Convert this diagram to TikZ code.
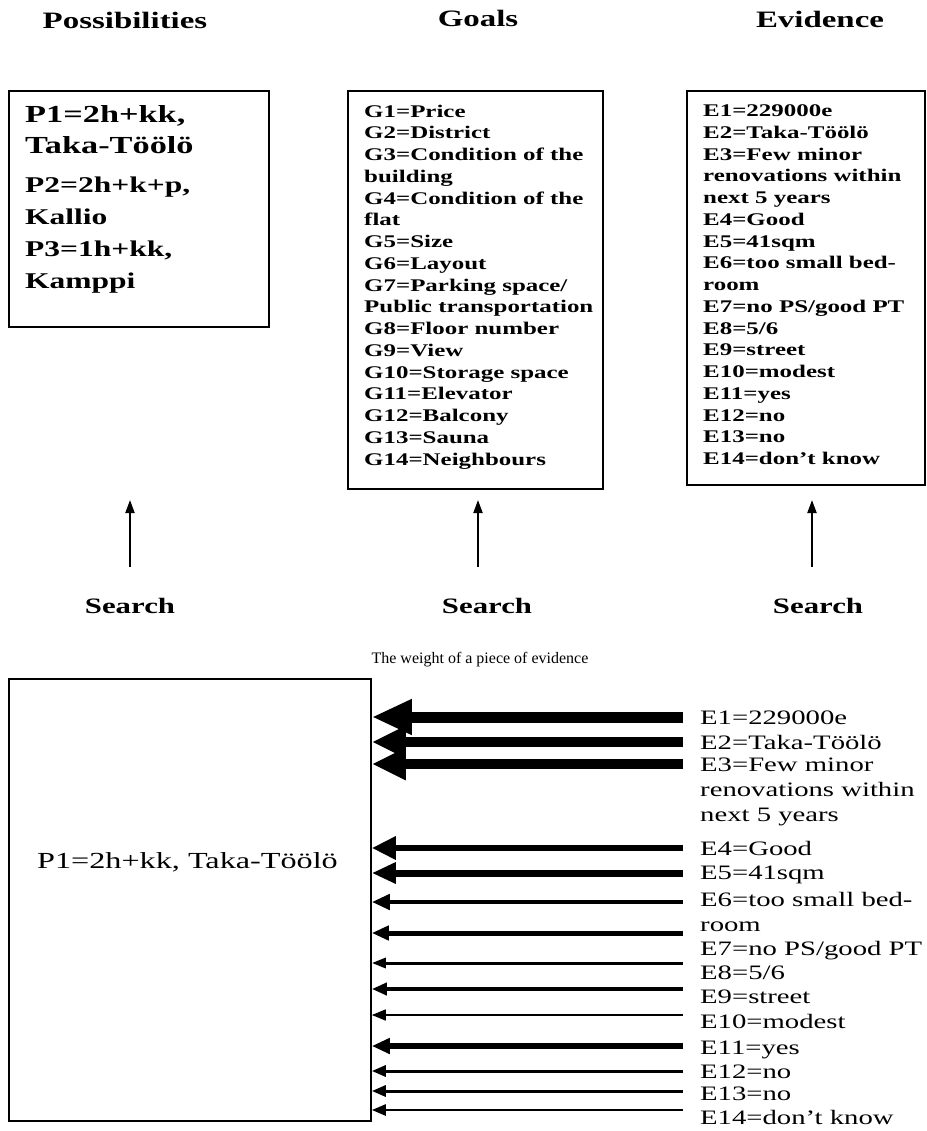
\documentclass[tikz,border=0pt]{standalone}
\usepackage{fontspec}
\setmainfont{Liberation Serif}[FakeStretch=1.4]
\newfontfamily\plainfont{Liberation Serif}
\usetikzlibrary{arrows.meta}
\begin{document}
\begin{tikzpicture}[x=1pt,y=-1pt,
  frame/.style={draw, line width=1.8pt, inner sep=0pt, anchor=north west},
  title/.style={font=\fontsize{23.5}{25}\selectfont\bfseries, inner sep=0pt, anchor=base},
  search/.style={font=\fontsize{22}{24}\selectfont\bfseries, inner sep=0pt, anchor=base},
  listtxt/.style={font=\fontsize{17.8}{21.75}\selectfont\bfseries, align=left, inner sep=0pt, anchor=north west},
  ptxtA/.style={font=\fontsize{24.5}{31}\selectfont\bfseries, align=left, inner sep=0pt, anchor=north west},
  ptxtB/.style={font=\fontsize{22.5}{32}\selectfont\bfseries, align=left, inner sep=0pt, anchor=north west},
  lbl/.style={font=\fontsize{20.5}{22}\selectfont, inner sep=0pt, anchor=base west},
  upar/.style={line width=2pt, -{Triangle[length=13pt,width=9pt]}},
]
\useasboundingbox (0,0) rectangle (926,1131);
% titles
\node[title] (tp) at (125,29) {Possibilities};
\node[title] (tg) at (478,27) {Goals};
\node[title] (te) at (820,28) {Evidence};
% top boxes
\node[frame, minimum width=260pt, minimum height=236pt] (pbox) at (8,90) {};
\node[frame, minimum width=255pt, minimum height=398pt] (gbox) at (347,90) {};
\node[frame, minimum width=238pt, minimum height=394pt] (ebox) at (686,90) {};
\node[ptxtA] (p1) at (25,105) {P1=2h+kk,\\Taka-Töölö};
\node[ptxtB] (p2) at (25,177) {P2=2h+k+p,\\Kallio\\P3=1h+kk,\\Kamppi};
\node[listtxt] (gtxt) at (364,104.5) {G1=Price\\G2=District\\G3=Condition of the\\building\\G4=Condition of the\\flat\\G5=Size\\G6=Layout\\G7=Parking space/\\Public transportation\\G8=Floor number\\G9=View\\G10=Storage space\\G11=Elevator\\G12=Balcony\\G13=Sauna\\G14=Neighbours};
\node[listtxt] (etxt) at (703,104.5) {E1=229000e\\E2=Taka-Töölö\\E3=Few minor\\renovations within\\next 5 years\\E4=Good\\E5=41sqm\\E6=too small bed-\\room\\E7=no PS/good PT\\E8=5/6\\E9=street\\E10=modest\\E11=yes\\E12=no\\E13=no\\E14=don’t know};
% search arrows
\node[search] (s1) at (130,613) {Search};
\node[search] (s2) at (487,613) {Search};
\node[search] (s3) at (818,613) {Search};
\coordinate (u1) at (130,567); \coordinate (v1) at (130,500);
\coordinate (u2) at (478,567); \coordinate (v2) at (478,500);
\coordinate (u3) at (812,567); \coordinate (v3) at (812,500);
\draw[upar] (u1) -- (v1);
\draw[upar] (u2) -- (v2);
\draw[upar] (u3) -- (v3);
% bottom
\node[font=\plainfont\fontsize{16}{18}\selectfont, anchor=base, inner sep=0pt] (wt) at (480,663) {The weight of a piece of evidence};
\node[frame, minimum width=362pt, minimum height=442pt] (big) at (8,678) {};
\node[font=\fontsize{23}{25}\selectfont, anchor=base west, inner sep=0pt] (bigt) at (37,868) {P1=2h+kk, Taka-Töölö};
% labels
\node[lbl] (l1) at (700,724) {E1=229000e};
\node[lbl] (l2) at (700,749) {E2=Taka-Töölö};
\node[lbl] (l3) at (700,771) {E3=Few minor};
\node[lbl] (l3b) at (700,796) {renovations within};
\node[lbl] (l3c) at (700,821) {next 5 years};
\node[lbl] (l4) at (700,855) {E4=Good};
\node[lbl] (l5) at (700,879) {E5=41sqm};
\node[lbl] (l6) at (700,906) {E6=too small bed-};
\node[lbl] (l6b) at (700,931) {room};
\node[lbl] (l7) at (700,955) {E7=no PS/good PT};
\node[lbl] (l8) at (700,979) {E8=5/6};
\node[lbl] (l9) at (700,1003) {E9=street};
\node[lbl] (l10) at (700,1028) {E10=modest};
\node[lbl] (l11) at (700,1054) {E11=yes};
\node[lbl] (l12) at (700,1078) {E12=no};
\node[lbl] (l13) at (700,1100) {E13=no};
\node[lbl] (l14) at (700,1124) {E14=don’t know};
% weighted arrows
\foreach \i/\y/\w/\l/\h in {1/717/11/40/33, 2/742/10/34/30, 3/764/10/34/30,
  4/848/6.5/24/22, 5/873/7/24/20, 6/902/4.5/18/15, 7/933/5/17/14,
  8/963/3/14/10, 9/989/4/15/12, 10/1015/1.5/14/11, 11/1046/6.5/18/15,
  12/1071/3/14/11, 13/1091/3/14/11, 14/1110/2.5/14/11}{
  \coordinate (t\i) at (683,\y);
  \draw[line width=\w pt, -{Triangle[length=\l pt,width=\h pt]}] (t\i) -- (t\i -| big.east);
}
\end{tikzpicture}
\end{document}
